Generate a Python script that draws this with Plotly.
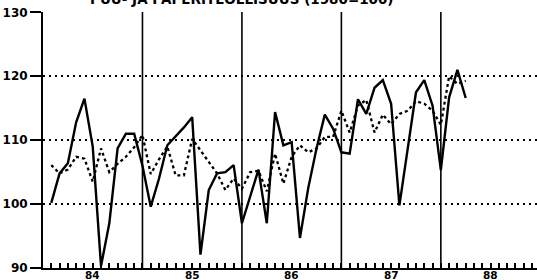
import plotly.graph_objects as go

# Month index: 1 = first month of 1984
months = list(range(1, 52))

index_values = [
    100.2, 104.8, 106.4, 112.8, 116.5, 109.0, 90.3, 97.0, 108.7, 111.0, 111.0, 106.0,
    99.6, 104.0, 109.2, 110.6, 112.0, 113.6, 92.1, 102.2, 104.8, 105.0, 106.1, 97.0,
    101.2, 105.4, 97.0, 114.4, 109.2, 109.7, 94.7, 102.5, 108.7, 114.0, 111.8, 108.1,
    107.9, 116.4, 114.1, 118.2, 119.4, 115.7, 99.8, 109.0, 117.5, 119.4, 115.4, 105.3,
    116.7, 121.0, 116.6,
]

adjusted_values = [
    106.1, 104.8, 105.4, 107.4, 107.1, 103.5, 108.7, 105.0, 106.3, 107.4, 108.9, 110.8,
    104.7, 107.0, 109.0, 104.5, 104.5, 110.2, 108.4, 106.6, 104.8, 102.2, 104.0, 102.4,
    105.0, 105.2, 102.0, 107.9, 103.2, 107.4, 109.2, 108.1, 108.7, 110.5, 110.5, 114.6,
    111.2, 115.4, 116.3, 111.2, 114.0, 112.5, 114.1, 114.6, 116.1, 115.7, 114.6, 112.4,
    120.0, 118.8, 119.3,
]

year_labels = ["84", "85", "86", "87", "88"]
year_centers = [6, 18, 30, 42, 54]
year_boundaries = [12, 24, 36, 48]
y_ticks = [90, 100, 110, 120, 130]
title_text = "PUU- JA PAPERITEOLLISUUS (1980=100)"

fig = go.Figure()
fig.add_trace(go.Scatter(
    x=months, y=adjusted_values, mode="lines",
    line=dict(color="black", width=2.3, dash="3px,3px"),
))
fig.add_trace(go.Scatter(
    x=months, y=index_values, mode="lines",
    line=dict(color="black", width=2.4),
))

for b in year_boundaries:
    fig.add_shape(type="line", x0=b, x1=b, y0=90, y1=130.3, xref="x", yref="y",
                  line=dict(color="black", width=1.6), layer="below")

# year labels under the axis
for c, lab in zip(year_centers, year_labels):
    fig.add_annotation(text=lab, x=c, xref="x", y=0, yref="paper",
                       xanchor="center", yanchor="top", yshift=1, showarrow=False,
                       font=dict(family="DejaVu Sans", size=10.5, color="black", weight="bold"))

fig.add_annotation(text=title_text, xref="paper", yref="paper", x=0.403, y=1.012,
                   xanchor="center", yanchor="bottom", showarrow=False,
                   font=dict(family="DejaVu Sans", size=13.5, color="black", weight="bold"))

fig.update_layout(
    width=537, height=280,
    margin=dict(l=43, r=0, t=12, b=12),
    paper_bgcolor="white", plot_bgcolor="white",
    showlegend=False,
    font=dict(family="DejaVu Sans", color="black"),
    xaxis=dict(
        range=[0, 59.6], tickmode="linear", tick0=0, dtick=1,
        ticks="inside", ticklen=5, tickwidth=1.5, tickcolor="black",
        showticklabels=False,
        showgrid=False, zeroline=False, showline=True, linecolor="black", linewidth=2,
        automargin=False,
    ),
    yaxis=dict(
        range=[90, 130.05], tickmode="array", tickvals=y_ticks,
        ticks="outside", ticklen=11, tickwidth=2, tickcolor="black",
        showgrid=True, gridcolor="black", griddash="2px,4px", gridwidth=1.5,
        showline=True, linecolor="black", linewidth=2, zeroline=False,
        tickfont=dict(size=12, family="DejaVu Sans", color="black", weight="bold"),
        automargin=False,
    ),
)

fig.write_html("out.html", config={"displayModeBar": False},
               post_script="document.body.style.margin='0';")
